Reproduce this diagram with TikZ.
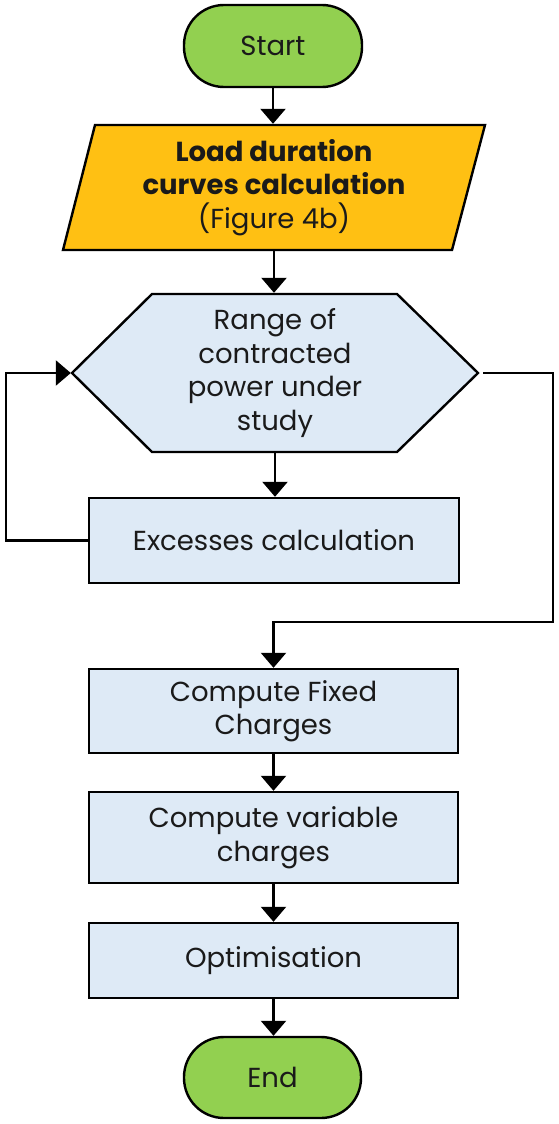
\documentclass[tikz,border=0pt]{standalone}
\usepackage{fontspec}
\setmainfont{Poppins}
\usetikzlibrary{arrows.meta}
\definecolor{boxblue}{HTML}{DEEAF6}
\definecolor{termgreen}{HTML}{92D050}
\definecolor{amber}{HTML}{FFC013}
\definecolor{ink}{HTML}{1A1A1A}
\begin{document}
\begin{tikzpicture}[x=1pt,y=-1pt,
  line width=2.4pt,
  txt/.style={font=\fontsize{27.5}{33.5}\selectfont, text=ink, align=center, inner sep=0pt},
  proc/.style={txt, draw=black, fill=boxblue, minimum width=369pt},
  term/.style={txt, draw=black, fill=termgreen, rounded corners=40pt, minimum width=178pt, minimum height=82pt},
  arr/.style={draw=black, -{Triangle[width=25pt,length=15pt]}}]
\useasboundingbox (0,0) rectangle (558,1124);

% Start
\node[term] (start) at (273,46) {Start};

% Parallelogram
\coordinate (lTL) at (95,125);
\coordinate (lTR) at (485,125);
\coordinate (lBR) at (452,250);
\coordinate (lBL) at (63,250);
\draw[fill=amber] (lTL) -- (lTR) -- (lBR) -- (lBL) -- cycle;
\node[txt, minimum width=330pt, minimum height=125pt] (load) at (274,187.5)
  {\textbf{Load duration}\\\textbf{curves calculation}\\(Figure 4b)};

% Hexagon
\coordinate (hL) at (72,373);
\coordinate (hTL) at (152,294);
\coordinate (hTR) at (397,294);
\coordinate (hR) at (478,373);
\coordinate (hBR) at (397,452);
\coordinate (hBL) at (152,452);
\draw[fill=boxblue] (hL) -- (hTL) -- (hTR) -- (hR) -- (hBR) -- (hBL) -- cycle;
\node[txt, minimum width=406pt, minimum height=158pt] (range) at (275,373)
  {Range of\\contracted\\power under\\study};

% Process boxes
\node[proc, minimum width=370pt, minimum height=85pt] (exc) at (274,540.5) {Excesses calculation};
\node[proc, minimum height=84pt] (fixed) at (273.5,711) {Compute Fixed\\Charges};
\node[proc, minimum height=91pt] (var) at (273.5,837.5) {Compute variable\\charges};
\node[proc, minimum height=75pt] (opt) at (273.5,960.5) {Optimisation};

% End
\node[term, minimum width=177pt, minimum height=81pt] (end) at (272.5,1077.5) {End};

% Connectors
\draw[arr] (start.south) -- (start.south |- load.north);
\draw[arr] (load.south) -- (load.south |- range.north);
\draw[arr] (range.south) -- (range.south |- exc.north);
\coordinate (lp) at (6,373);
\draw[arr] (exc.west) -| (lp) -- (range.west);
\coordinate (rs) at (483,373);
\coordinate (r1) at (553,373);
\coordinate (r2) at (553,622);
\draw[arr] (rs) -- (r1) -- (r2) -| (fixed.north);
\draw[arr] (fixed.south) -- (var.north);
\draw[arr] (var.south) -- (opt.north);
\draw[arr] (opt.south) -- (opt.south |- end.north);
\end{tikzpicture}
\end{document}
